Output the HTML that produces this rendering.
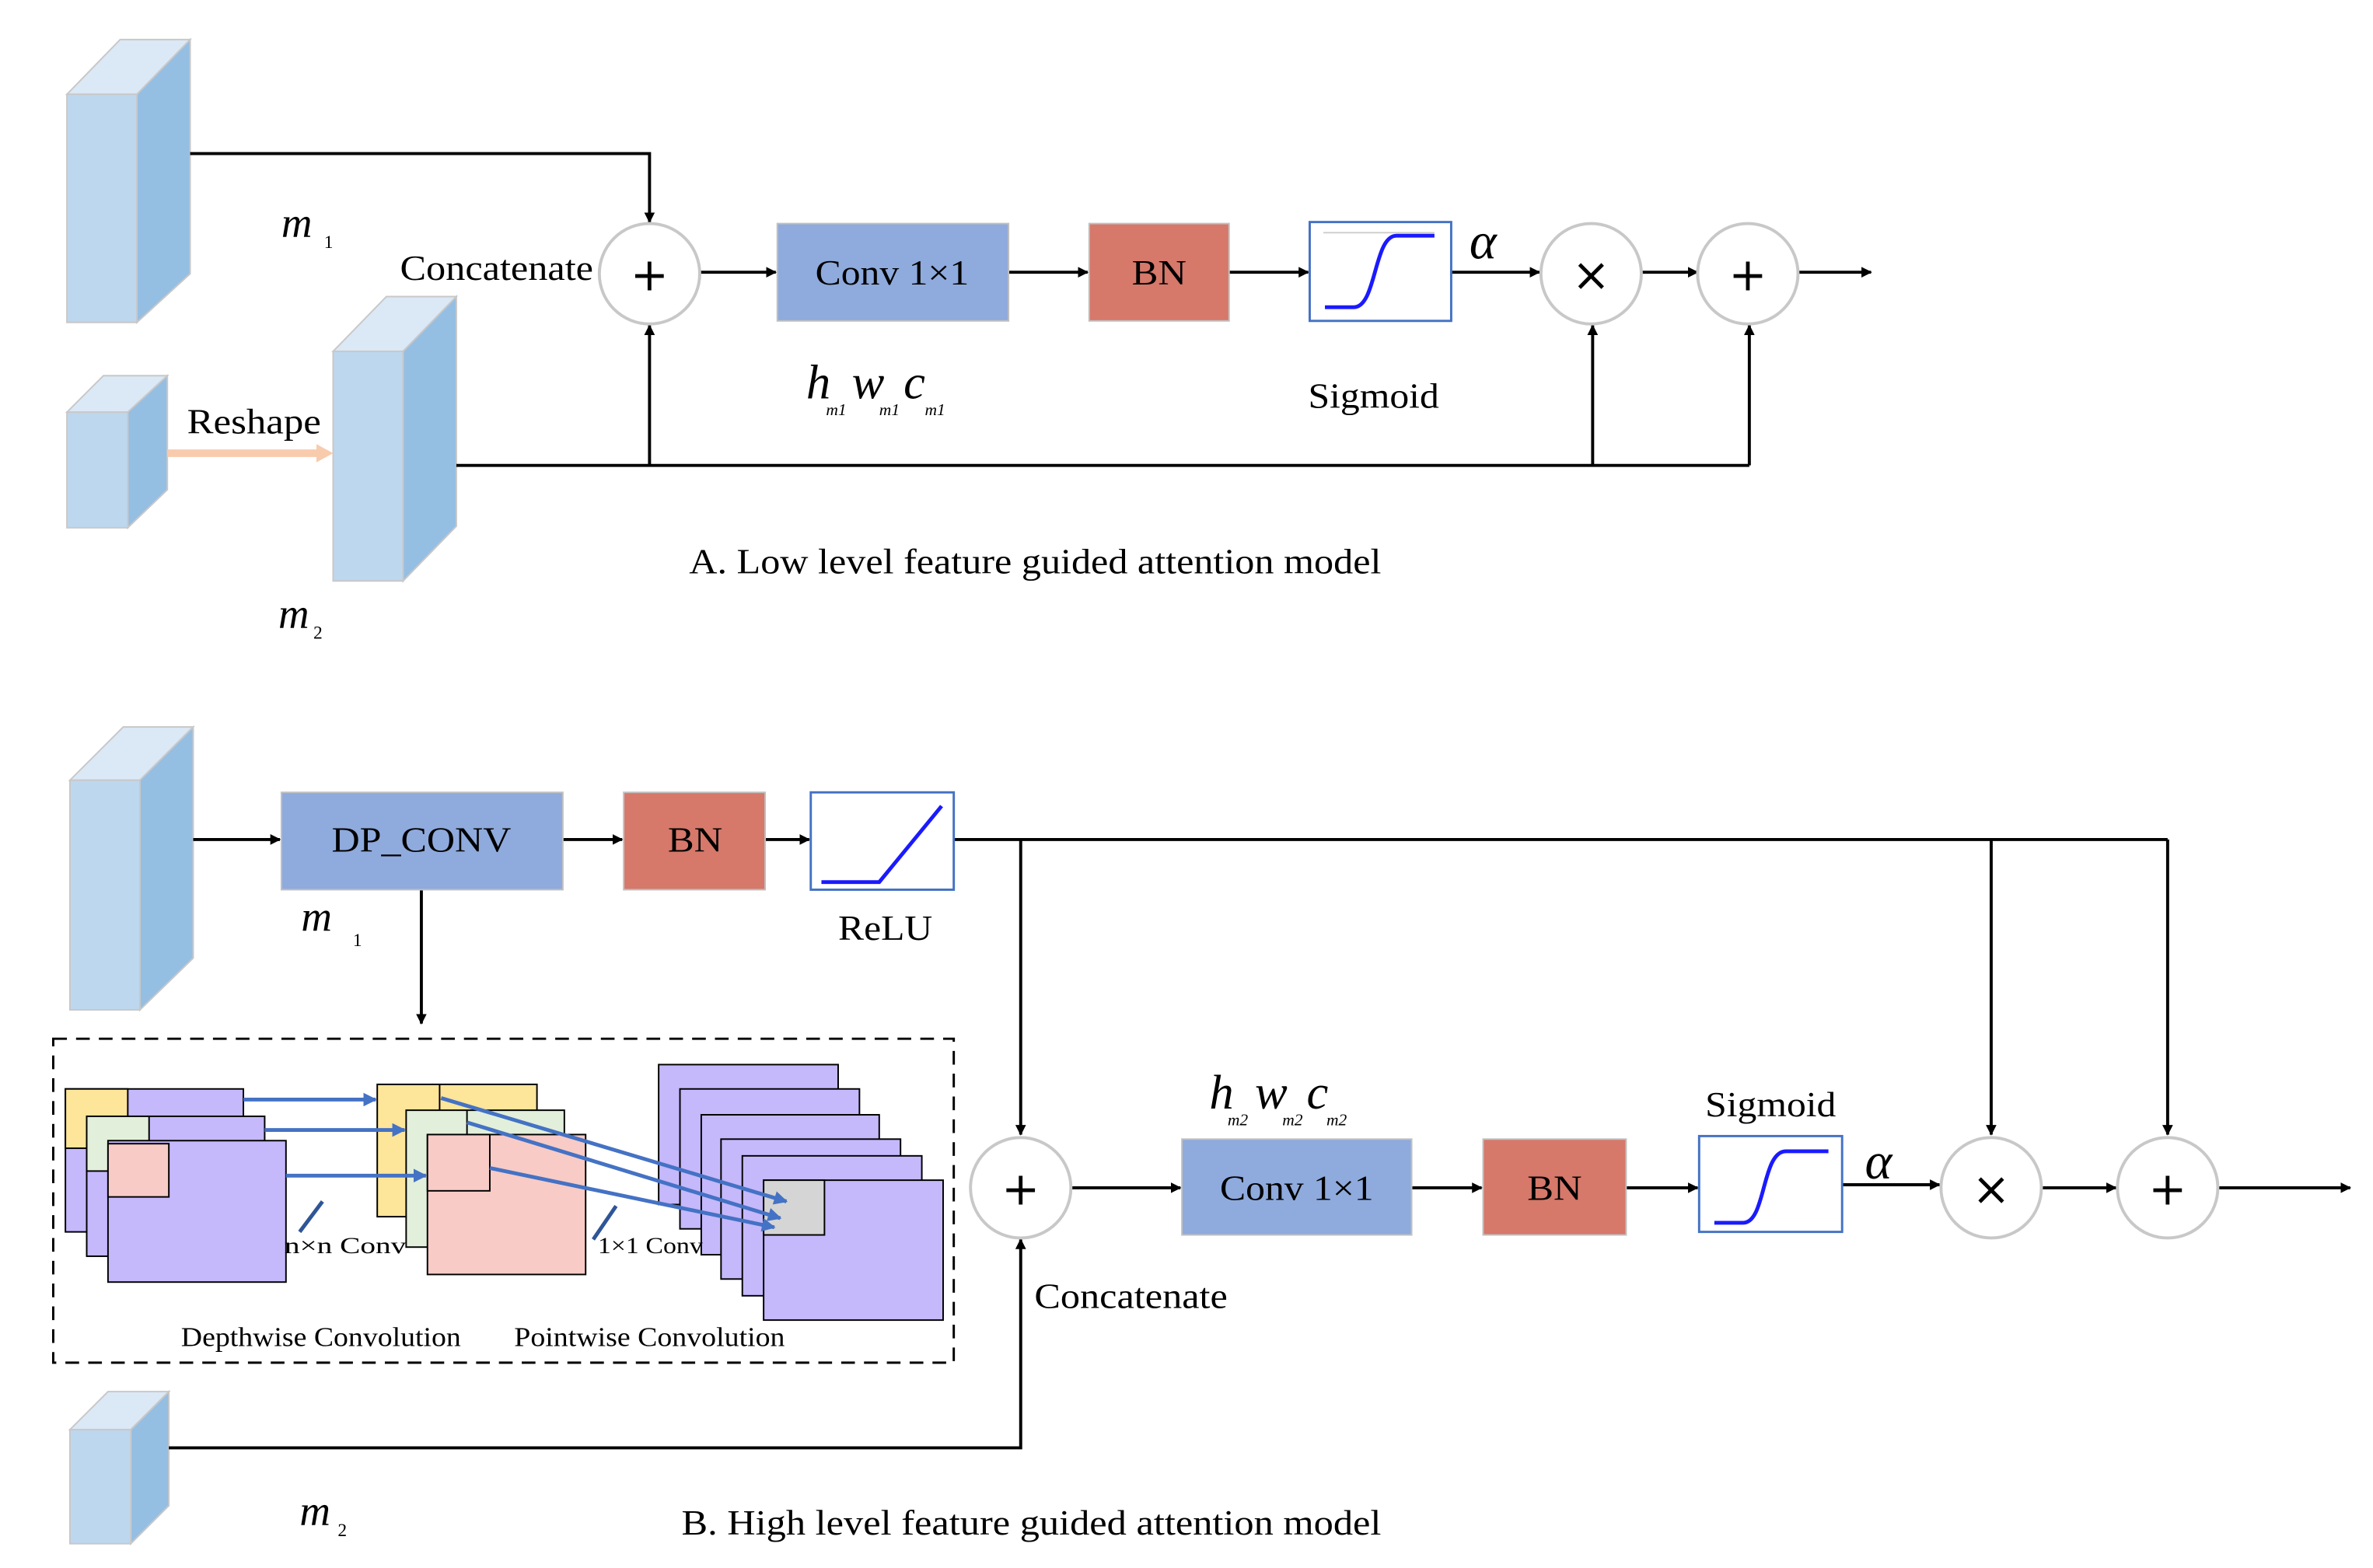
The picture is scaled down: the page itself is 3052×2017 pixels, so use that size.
<!DOCTYPE html>
<html><head><meta charset="utf-8"><style>html,body{margin:0;padding:0;background:#fff}svg{display:block}</style></head>
<body>
<svg width="3052" height="2017" viewBox="0 0 1560 1031" preserveAspectRatio="none" xmlns="http://www.w3.org/2000/svg" font-family="Liberation Serif, serif">
<defs>
<marker id="a" viewBox="0 0 10 10" refX="9" refY="5" markerWidth="7" markerHeight="7" orient="auto" markerUnits="userSpaceOnUse"><path d="M0,0L10,5L0,10z" fill="#000"/></marker>
<marker id="b" viewBox="0 0 10 10" refX="9" refY="5" markerWidth="9" markerHeight="9" orient="auto" markerUnits="userSpaceOnUse"><path d="M0,0L10,5L0,10z" fill="#4472c4"/></marker>
</defs>
<g stroke="#c8c8c8" stroke-width="1">
<polygon points="44,62 79,26 125,26 90,62" fill="#dbe8f6"/>
<polygon points="90,62 125,26 125,180 90,212" fill="#95bee3"/>
<rect x="44" y="62" width="46" height="150" fill="#bdd7ee"/>
<polygon points="44,271 68,247 110,247 84,271" fill="#dbe8f6"/>
<polygon points="84,271 110,247 110,322 84,347" fill="#95bee3"/>
<rect x="44" y="271" width="40" height="76" fill="#bdd7ee"/>
<polygon points="219,231 254,195 300,195 265,231" fill="#dbe8f6"/>
<polygon points="265,231 300,195 300,346 265,382" fill="#95bee3"/>
<rect x="219" y="231" width="46" height="151" fill="#bdd7ee"/>
<polygon points="46,513 81,478 127,478 92,513" fill="#dbe8f6"/>
<polygon points="92,513 127,478 127,630 92,664" fill="#95bee3"/>
<rect x="46" y="513" width="46" height="151" fill="#bdd7ee"/>
<polygon points="46,940 71,915 111,915 86,940" fill="#dbe8f6"/>
<polygon points="86,940 111,915 111,990 86,1015" fill="#95bee3"/>
<rect x="46" y="940" width="40" height="75" fill="#bdd7ee"/>
</g>
<line x1="110" y1="298" x2="210" y2="298" stroke="#f8cbad" stroke-width="5"/>
<polygon points="208,292 219,298 208,304" fill="#f8cbad"/>
<g stroke="#000" stroke-width="2" fill="none">
<polyline points="125,101 427,101 427,146" marker-end="url(#a)"/>
<polyline points="300,306 1150,306"/>
<line x1="427" y1="306" x2="427" y2="214" marker-end="url(#a)"/>
<line x1="1047" y1="306" x2="1047" y2="214" marker-end="url(#a)"/>
<line x1="1150" y1="306" x2="1150" y2="214" marker-end="url(#a)"/>
<line x1="459" y1="179" x2="510" y2="179" marker-end="url(#a)"/>
<line x1="663" y1="179" x2="715" y2="179" marker-end="url(#a)"/>
<line x1="808" y1="179" x2="860" y2="179" marker-end="url(#a)"/>
<line x1="954" y1="179" x2="1012" y2="179" marker-end="url(#a)"/>
<line x1="1079" y1="179" x2="1116" y2="179" marker-end="url(#a)"/>
<line x1="1182" y1="179" x2="1230" y2="179" marker-end="url(#a)"/>
<line x1="127" y1="552" x2="184" y2="552" marker-end="url(#a)"/>
<line x1="370" y1="552" x2="409" y2="552" marker-end="url(#a)"/>
<line x1="503" y1="552" x2="532" y2="552" marker-end="url(#a)"/>
<polyline points="627,552 1425,552"/>
<line x1="671" y1="552" x2="671" y2="746" marker-end="url(#a)"/>
<line x1="1309" y1="552" x2="1309" y2="746" marker-end="url(#a)"/>
<line x1="1425" y1="552" x2="1425" y2="746" marker-end="url(#a)"/>
<line x1="277" y1="585" x2="277" y2="673" marker-end="url(#a)"/>
<polyline points="111,952 671,952 671,815" marker-end="url(#a)"/>
<line x1="704" y1="781" x2="776" y2="781" marker-end="url(#a)"/>
<line x1="928" y1="781" x2="974" y2="781" marker-end="url(#a)"/>
<line x1="1069" y1="781" x2="1116" y2="781" marker-end="url(#a)"/>
<line x1="1211" y1="779" x2="1275" y2="779" marker-end="url(#a)"/>
<line x1="1342" y1="781" x2="1391" y2="781" marker-end="url(#a)"/>
<line x1="1458" y1="781" x2="1545" y2="781" marker-end="url(#a)"/>
</g>
<g fill="#fff" stroke="#c8c8c8" stroke-width="2">
<circle cx="427" cy="180" r="33"/><circle cx="1046" cy="180" r="33"/><circle cx="1149" cy="180" r="33"/>
<circle cx="671" cy="781" r="33"/><circle cx="1309" cy="781" r="33"/><circle cx="1425" cy="781" r="33"/>
</g>
<g font-family="DejaVu Sans, sans-serif" font-size="30" text-anchor="middle" fill="#000">
<text x="427" y="191">+</text><text x="1046" y="191">×</text><text x="1149" y="191">+</text>
<text x="671" y="792">+</text><text x="1309" y="792">×</text><text x="1425" y="792">+</text>
</g>
<g stroke="#c0c0c0" stroke-width="1">
<rect x="511" y="147" width="152" height="64" fill="#8faadc"/>
<rect x="716" y="147" width="92" height="64" fill="#d6786a"/>
<rect x="185" y="521" width="185" height="64" fill="#8faadc"/>
<rect x="410" y="521" width="93" height="64" fill="#d6786a"/>
<rect x="777" y="749" width="151" height="63" fill="#8faadc"/>
<rect x="975" y="749" width="94" height="63" fill="#d6786a"/>
</g>
<g fill="#fff" stroke="#4472c4" stroke-width="1.5">
<rect x="861" y="146" width="93" height="65"/>
<rect x="533" y="521" width="94" height="64"/>
<rect x="1117" y="747" width="94" height="63"/>
</g>
<g fill="none" stroke="#1a1aff" stroke-width="2.5">
<path d="M871,202 L890,202 C905,202 903,155 918,155 L943,155"/>
<path d="M540,580 L578,580 L619,530"/>
<path d="M1127,804 L1146,804 C1161,804 1158,757 1174,757 L1202,757"/>
</g>
<line x1="870" y1="153" x2="943" y2="153" stroke="#ccc" stroke-width="1"/>
<rect x="35" y="683" width="592" height="213" fill="none" stroke="#000" stroke-width="1.5" stroke-dasharray="9,6"/>
<g stroke="#000" stroke-width="1">
<rect x="43" y="716" width="117" height="94" fill="#c5b8fb"/><rect x="43" y="716" width="41" height="39" fill="#fde59a"/>
<rect x="57" y="734" width="117" height="92" fill="#c5b8fb"/><rect x="57" y="734" width="41" height="36" fill="#e2efda"/>
<rect x="71" y="750" width="117" height="93" fill="#c5b8fb"/><rect x="71" y="752" width="40" height="35" fill="#f8cbc6"/>
<rect x="248" y="713" width="105" height="87" fill="#fde59a"/><line x1="289" y1="713" x2="289" y2="745"/>
<rect x="267" y="730" width="104" height="90" fill="#e2efda"/><line x1="307" y1="730" x2="307" y2="765"/>
<rect x="281" y="746" width="104" height="92" fill="#f8cbc6"/><rect x="281" y="746" width="41" height="37" fill="#f8cbc6"/>
<rect x="433" y="700" width="118" height="92" fill="#c5b8fb"/>
<rect x="447" y="716" width="118" height="92" fill="#c5b8fb"/>
<rect x="461" y="733" width="117" height="92" fill="#c5b8fb"/>
<rect x="474" y="749" width="118" height="92" fill="#c5b8fb"/>
<rect x="488" y="760" width="118" height="92" fill="#c5b8fb"/>
<rect x="502" y="776" width="118" height="92" fill="#c5b8fb"/>
<rect x="502" y="776" width="40" height="36" fill="#d5d5d5"/>
</g>
<g stroke="#4472c4" stroke-width="2.5">
<line x1="160" y1="723" x2="247" y2="723" marker-end="url(#b)"/>
<line x1="174" y1="743" x2="266" y2="743" marker-end="url(#b)"/>
<line x1="188" y1="773" x2="280" y2="773" marker-end="url(#b)"/>
<line x1="290" y1="722" x2="517" y2="790" marker-end="url(#b)"/>
<line x1="307" y1="738" x2="513" y2="801" marker-end="url(#b)"/>
<line x1="322" y1="768" x2="509" y2="807" marker-end="url(#b)"/>
<line x1="212" y1="790" x2="197" y2="810" stroke="#2f5597"/>
<line x1="405" y1="793" x2="390" y2="815" stroke="#2f5597"/>
</g>
<g fill="#000" font-size="23">
<text x="263" y="184" textLength="127" lengthAdjust="spacingAndGlyphs">Concatenate</text>
<text x="536" y="187" textLength="101" lengthAdjust="spacingAndGlyphs">Conv 1×1</text>
<text x="744" y="187" textLength="36" lengthAdjust="spacingAndGlyphs">BN</text>
<text x="860" y="268" textLength="86" lengthAdjust="spacingAndGlyphs">Sigmoid</text>
<text x="123" y="285" textLength="88" lengthAdjust="spacingAndGlyphs">Reshape</text>
<text x="453" y="377" textLength="455" lengthAdjust="spacingAndGlyphs">A. Low level feature guided attention model</text>
<text x="218" y="560" textLength="118" lengthAdjust="spacingAndGlyphs">DP_CONV</text>
<text x="439" y="560" textLength="36" lengthAdjust="spacingAndGlyphs">BN</text>
<text x="551" y="618" textLength="62" lengthAdjust="spacingAndGlyphs">ReLU</text>
<text x="680" y="860" textLength="127" lengthAdjust="spacingAndGlyphs">Concatenate</text>
<text x="802" y="789" textLength="101" lengthAdjust="spacingAndGlyphs">Conv 1×1</text>
<text x="1004" y="789" textLength="36" lengthAdjust="spacingAndGlyphs">BN</text>
<text x="1121" y="734" textLength="86" lengthAdjust="spacingAndGlyphs">Sigmoid</text>
<text x="448" y="1009" textLength="460" lengthAdjust="spacingAndGlyphs">B. High level feature guided attention model</text>
<text x="187" y="824" font-size="15" textLength="80" lengthAdjust="spacingAndGlyphs">n×n Conv</text>
<text x="393" y="824" font-size="15" textLength="69" lengthAdjust="spacingAndGlyphs">1×1 Conv</text>
<text x="119" y="885" font-size="18" textLength="184" lengthAdjust="spacingAndGlyphs">Depthwise Convolution</text>
<text x="338" y="885" font-size="18" textLength="178" lengthAdjust="spacingAndGlyphs">Pointwise Convolution</text>
<g font-style="italic">
<text x="185" y="156" font-size="28">m</text><text x="213" y="163" font-size="12" font-style="normal">1</text>
<text x="183" y="413" font-size="28">m</text><text x="206" y="420" font-size="12" font-style="normal">2</text>
<text x="198" y="612" font-size="28">m</text><text x="232" y="622" font-size="12" font-style="normal">1</text>
<text x="197" y="1003" font-size="28">m</text><text x="222" y="1010" font-size="12" font-style="normal">2</text>
<text x="966" y="170" font-size="34">α</text>
<text x="1226" y="775" font-size="34">α</text>
<text x="530" y="262" font-size="32">h</text><text x="543" y="273" font-size="11">m1</text>
<text x="560" y="262" font-size="32">w</text><text x="578" y="273" font-size="11">m1</text>
<text x="594" y="262" font-size="32">c</text><text x="608" y="273" font-size="11">m1</text>
<text x="795" y="729" font-size="32">h</text><text x="807" y="740" font-size="11">m2</text>
<text x="825" y="729" font-size="32">w</text><text x="843" y="740" font-size="11">m2</text>
<text x="859" y="729" font-size="32">c</text><text x="872" y="740" font-size="11">m2</text>
</g>
</g>
</svg>
</body></html>
